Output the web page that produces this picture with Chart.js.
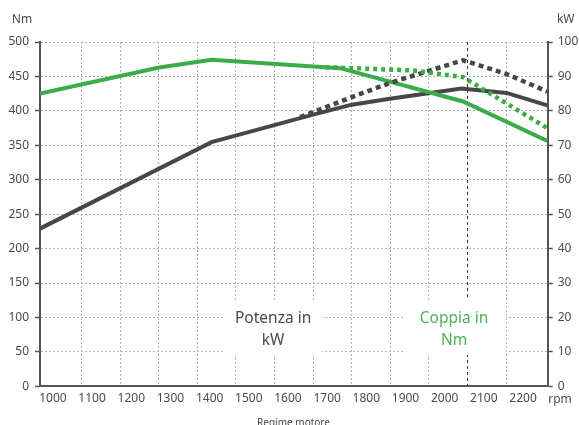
<!DOCTYPE html>
<html><head><meta charset="utf-8">
<script src="https://cdn.jsdelivr.net/npm/chart.js@4"></script>
<style>html,body{margin:0;padding:0;background:#fff;}canvas{display:block;}</style>
</head><body>
<canvas id="c" width="579" height="425"></canvas>
<script>
// Tick labels
const rpmTicks = [1000,1100,1200,1300,1400,1500,1600,1700,1800,1900,2000,2100,2200];
const gridRpm = [1100,1200,1300,1400,1500,1600,1700,1800,1900,2000,2100,2200];
const nmTicks = [0,50,100,150,200,250,300,350,400,450,500];
const kwTicks = [0,10,20,30,40,50,60,70,80,90,100];

// Series
const powerRpm = [967,1405,1664,1763,1860,2043,2158,2262];
const powerKw  = [45.8,70.9,78.9,81.8,83.5,86.5,85.2,81.6];
const powerMaxRpm = [1631,1763,1860,2047,2158,2262];
const powerMaxKw  = [78.2,84.0,88.1,94.7,90.7,85.6];
const torqueRpm = [967,1271,1405,1733,2047,2262];
const torqueNm  = [425.3,463,474.3,462,413.6,356.5];
const torqueMaxRpm = [1695,1919,2047,2262];
const torqueMaxNm  = [463.5,458.7,449,375];

const GREEN = '#3aad48', DARK = '#474747', TXT = '#4a4a4a', GTXT = '#4cb354';
const pts = (xs, ys) => xs.map((x, i) => ({x, y: ys[i]}));

Chart.defaults.font.family = "'Noto Sans', sans-serif";
Chart.defaults.font.size = 12;
Chart.defaults.color = TXT;

const overlay = {
  id: 'overlay',
  beforeDatasetsDraw(chart) {
    const {ctx, scales} = chart;
    const x = scales.x, y = scales.y;
    ctx.save();
    ctx.fillStyle = '#fff';
    const box = (r0, r1, v0, v1) => {
      const a = x.getPixelForValue(r0), b = x.getPixelForValue(r1);
      const t = y.getPixelForValue(v0), u = y.getPixelForValue(v1);
      ctx.fillRect(a, t, b - a, u - t);
    };
    box(1439, 1687, 125.5, 45.5);
    box(1894, 2157, 125.5, 45.5);
    ctx.font = "15.5px 'Noto Sans', sans-serif";
    ctx.textAlign = 'center';
    ctx.textBaseline = 'middle';
    ctx.fillStyle = TXT;
    ctx.fillText('Potenza in', x.getPixelForValue(1562), y.getPixelForValue(99));
    ctx.fillText('kW', x.getPixelForValue(1562), y.getPixelForValue(67));
    ctx.fillStyle = GTXT;
    ctx.fillText('Coppia in', x.getPixelForValue(2024), y.getPixelForValue(99));
    ctx.fillText('Nm', x.getPixelForValue(2024), y.getPixelForValue(67));
    ctx.restore();
  },
  afterDraw(chart) {
    const {ctx, chartArea} = chart;
    ctx.save();
    ctx.fillStyle = TXT;
    ctx.textBaseline = 'middle';
    ctx.textAlign = 'center';
    ctx.font = "12px 'Noto Sans', sans-serif";
    ctx.fillText('Nm', chartArea.left - 18, 19.5);
    ctx.fillText('kW', chartArea.right + 18, 19.5);
    ctx.textAlign = 'left';
    ctx.fillText('rpm', chartArea.right + 0.5, chartArea.bottom + 13.5);
    ctx.textAlign = 'center';
    ctx.font = "10px 'Noto Sans', sans-serif";
    ctx.fillText('Regime motore', 293.5, chartArea.bottom + 37);
    ctx.restore();
  }
};

new Chart(document.getElementById('c'), {
  type: 'line',
  data: {
    datasets: [
      {data: pts(torqueMaxRpm, torqueMaxNm), yAxisID: 'y', xAxisID: 'x', borderColor: GREEN, borderWidth: 4.5, borderDash: [4, 4], pointRadius: 0, tension: 0, fill: false},
      {data: pts(powerMaxRpm, powerMaxKw), yAxisID: 'y2', xAxisID: 'x', borderColor: DARK, borderWidth: 4.5, borderDash: [5, 4], pointRadius: 0, tension: 0, fill: false},
      {data: pts(torqueRpm, torqueNm), yAxisID: 'y', xAxisID: 'x', borderColor: GREEN, borderWidth: 4, pointRadius: 0, tension: 0, fill: false},
      {data: pts(powerRpm, powerKw), yAxisID: 'y2', xAxisID: 'x', borderColor: DARK, borderWidth: 4, pointRadius: 0, tension: 0, fill: false}
    ]
  },
  options: {
    responsive: false,
    animation: false,
    devicePixelRatio: 1,
    layout: {padding: {top: 42, left: 0, right: 0, bottom: 0}},
    plugins: {legend: {display: false}, tooltip: {enabled: false}},
    scales: {
      x: {
        type: 'linear', axis: 'x', position: 'bottom', min: 967, max: 2263,
        afterBuildTicks: s => { s.ticks = rpmTicks.map(v => ({value: v})); },
        afterFit: s => { s.height = 38.7; },
        grid: {display: false, drawTicks: false, tickLength: 0},
        border: {display: true, color: '#555', width: 2},
        ticks: {padding: 5, maxRotation: 0, autoSkip: false, font: {size: 12}, callback: v => String(v)}
      },
      xg: {
        type: 'linear', axis: 'x', position: 'bottom', min: 992, max: 2308,
        afterBuildTicks: s => { s.ticks = gridRpm.map(v => ({value: v})); },
        afterFit: s => { s.height = 0; },
        ticks: {display: false},
        grid: {drawTicks: false, color: c => (c.tick && c.tick.value === 2100) ? '#333' : '#b0b0b0', lineWidth: 1},
        border: {display: false, dash: c => (c.tick && c.tick.value === 2100) ? [3, 3] : [2, 2]}
      },
      y: {
        type: 'linear', position: 'left', min: 0, max: 500,
        afterBuildTicks: s => { s.ticks = nmTicks.map(v => ({value: v})); },
        afterFit: s => { s.width = 40; },
        grid: {color: '#b0b0b0', lineWidth: 1, tickLength: 5, tickColor: '#555', tickWidth: 1.5, tickBorderDash: []},
        border: {display: true, color: '#555', width: 2, dash: [2, 2]},
        ticks: {padding: 6, font: {size: 12}}
      },
      y2: {
        type: 'linear', position: 'right', min: 0, max: 100,
        afterBuildTicks: s => { s.ticks = kwTicks.map(v => ({value: v})); },
        afterFit: s => { s.width = 31.3; },
        grid: {drawOnChartArea: false, tickLength: 5, tickColor: '#555', tickWidth: 1.5, tickBorderDash: []},
        border: {display: true, color: '#555', width: 2},
        ticks: {padding: 5, font: {size: 12}}
      }
    }
  },
  plugins: [overlay]
});
</script>
</body></html>
